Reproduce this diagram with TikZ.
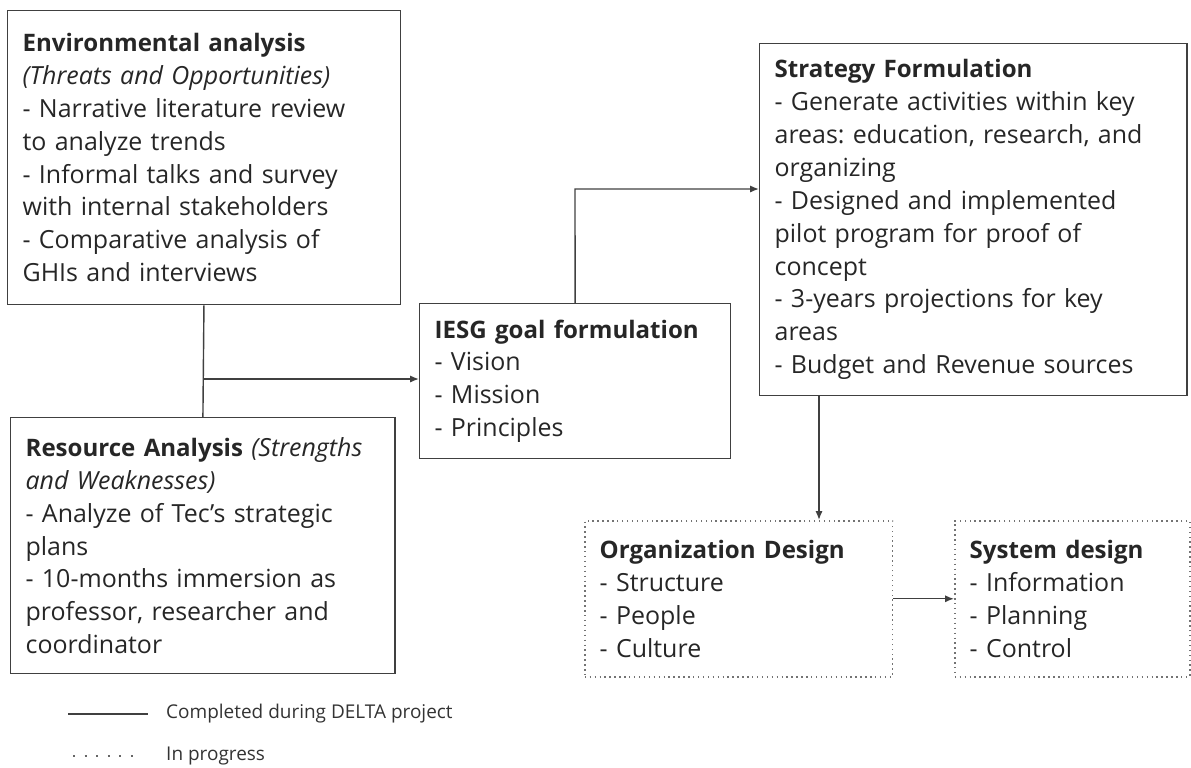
\documentclass[tikz,border=0pt]{standalone}
\usepackage{fontspec}
\setmainfont{Open Sans}
\usetikzlibrary{arrows.meta, calc, positioning}

% stage titles are set a touch smaller than the bullet text
\newcommand{\stage}[1]{{\fontsize{13.7}{18.7}\selectfont\bfseries #1}}

\begin{document}
\frenchspacing
\begin{tikzpicture}[x=0.02cm, y=-0.02cm,
    panel/.style={draw=black!75, line width=0.8pt, anchor=north west, align=left,
        inner xsep=8.5pt, text=black!85, font=\fontsize{14.2}{18.7}\selectfont},
    pending/.style={panel, draw=black!55, dotted, line width=0.9pt},
    flow/.style={draw=black!75, line width=0.8pt, -{Latex[length=5pt, width=4pt]}},
    legend/.style={anchor=west, text=black!80, font=\fontsize{10.8}{12}\selectfont}]
    \useasboundingbox (0,0) rectangle (1191,768);

    % completed stages
    \node[panel, text width=206.4pt, minimum height=5.88cm] (env) at (7,10)
        {\stage{Environmental analysis}\\
         \textit{(Threats and Opportunities)}\\
         - Narrative literature review\\
         to analyze trends\\
         - Informal talks and survey\\
         with internal stakeholders\\
         - Comparative analysis of\\
         GHIs and interviews};
    \node[panel, text width=201.8pt, minimum height=5.12cm] (res) at (10,417)
        {\stage{Resource Analysis} \textit{(Strengths}\\
         \textit{and Weaknesses)}\\
         - Analyze of Tec’s strategic\\
         plans\\
         - 10-months immersion as\\
         professor, researcher and\\
         coordinator};
    \node[panel, text width=159.9pt, minimum height=3.1cm] (iesg) at (419,303)
        {\stage{IESG goal formulation}\\
         - Vision\\
         - Mission\\
         - Principles};
    \node[panel, text width=226.2pt, minimum height=7.04cm] (strat) at (759,43)
        {\stage{Strategy Formulation}\\
         - Generate activities within key\\
         areas: education, research, and\\
         organizing\\
         - Designed and implemented\\
         pilot program for proof of\\
         concept\\
         - 3-years projections for key\\
         areas\\
         - Budget and Revenue sources};

    % stages still in progress
    \node[pending, text width=158.2pt, minimum height=3.12cm] (org) at (584,520)
        {\stage{Organization Design}\\
         - Structure\\
         - People\\
         - Culture};
    \node[pending, text width=116.8pt, minimum height=3.12cm] (sys) at (954,520)
        {\stage{System design}\\
         - Information\\
         - Planning\\
         - Control};

    % connectors
    \coordinate (split) at (203,379);
    \coordinate (bend) at (575,189);
    \coordinate (drop) at (819,0);
    \draw[draw=black!75, line width=0.8pt] (env.south) -- (res.north);
    \draw[flow] (split) -- (split -| iesg.west);
    \draw[flow] (iesg.north) -- (bend) -- (bend -| strat.west);
    \draw[flow] (strat.south -| drop) -- (org.north -| drop);
    \draw[flow] (org.east) -- (sys.west);

    % legend
    \node[legend] (done) at (160,714) {Completed during DELTA project};
    \node[legend] (wip) at (160,756) {In progress};
    \coordinate (doneA) at (68,714);
    \coordinate (wipA) at (73,756);
    \draw[black!75, line width=0.8pt] (doneA) -- (done.west -| 148,0);
    \draw[black!60, line width=1.1pt, dash pattern=on 1.1pt off 5.5pt] (wipA) -- (wip.west -| 142,0);
\end{tikzpicture}
\end{document}
